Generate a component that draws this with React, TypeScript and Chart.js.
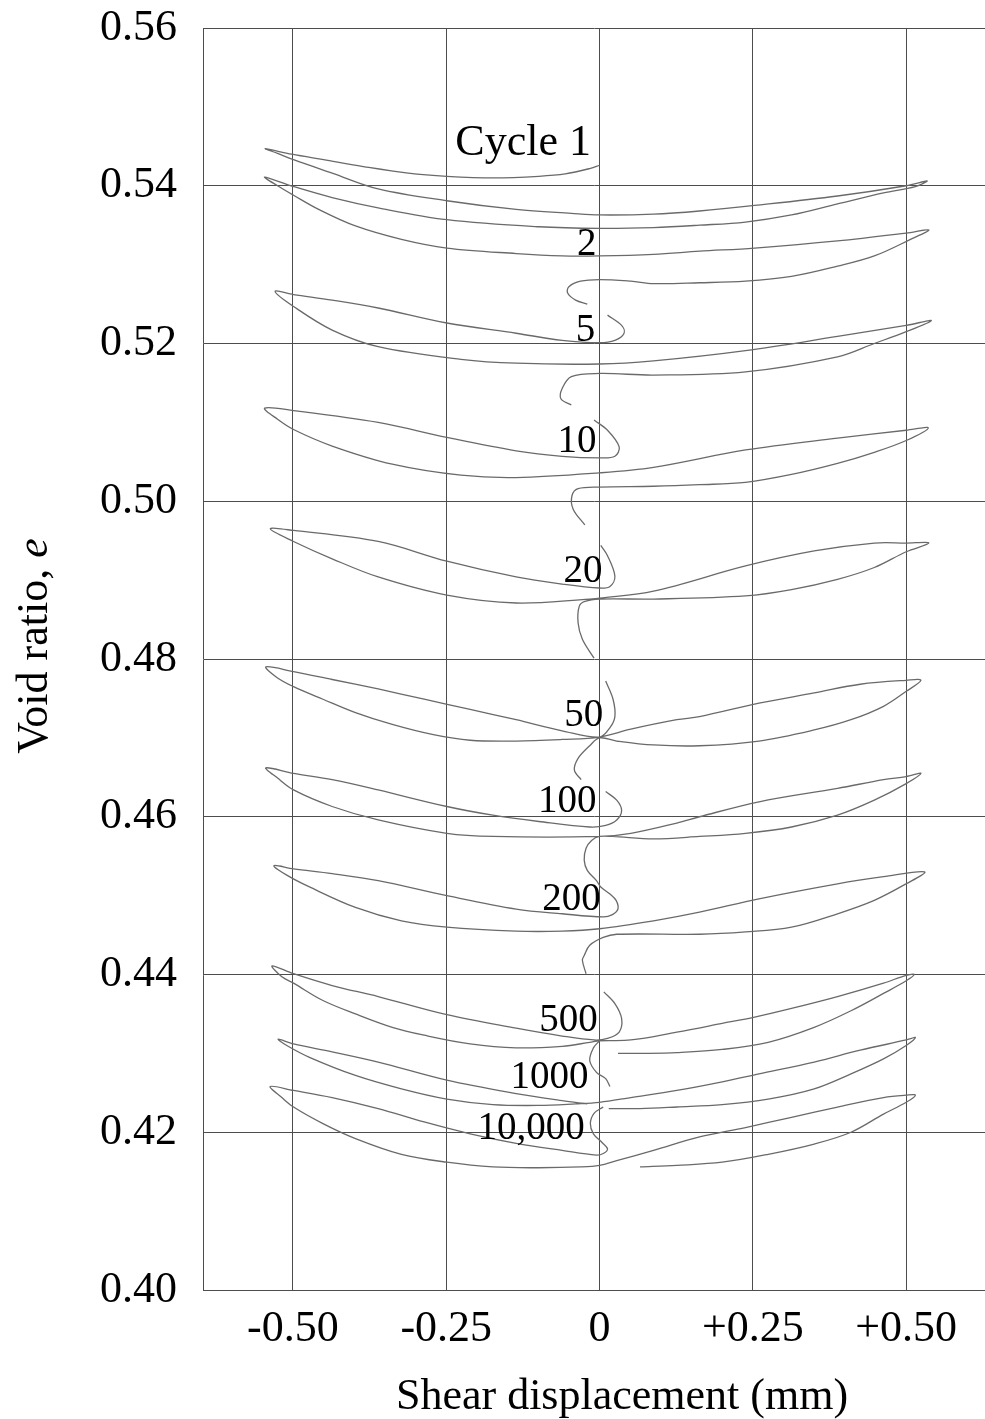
import React, { useEffect, useRef } from "react";
import { Chart, registerables } from "chart.js";

Chart.register(...registerables);

// ---- axis ticks ----
const xTickValues = [-0.5, -0.25, 0, 0.25, 0.5];
const xTickLabels = ["-0.50", "-0.25", "0", "+0.25", "+0.50"];
const yTickValues = [0.4, 0.42, 0.44, 0.46, 0.48, 0.5, 0.52, 0.54, 0.56];
const yTickLabels = ["0.40", "0.42", "0.44", "0.46", "0.48", "0.50", "0.52", "0.54", "0.56"];
const xTitle = "Shear displacement (mm)";
const yTitleMain = "Void ratio, ";
const yTitleItalic = "e";

// ---- traced curves: [shear displacement (mm), void ratio e] ----
const cycle1to2 = [
  [0.0, 0.5426], [-0.015, 0.5422], [-0.056, 0.5415], [-0.099, 0.5412], [-0.172, 0.541], [-0.249, 0.5412],
  [-0.312, 0.5416], [-0.383, 0.5424], [-0.45, 0.5433], [-0.502, 0.544], [-0.545, 0.5447],
  [-0.525, 0.5441], [-0.499, 0.5433], [-0.436, 0.5416], [-0.361, 0.5396], [-0.249, 0.5381], [-0.136, 0.537],
  [-0.046, 0.5365], [0.0, 0.5363], [0.088, 0.5364], [0.163, 0.5368], [0.253, 0.5375], [0.388, 0.5387],
  [0.5, 0.54], [0.534, 0.5406],
  [0.515, 0.5399], [0.463, 0.5391], [0.388, 0.5377], [0.313, 0.5363], [0.238, 0.5354], [0.163, 0.535],
  [0.088, 0.5347], [0.0, 0.5346], [-0.099, 0.5348], [-0.249, 0.5357], [-0.361, 0.5372], [-0.436, 0.5385],
  [-0.499, 0.5399], [-0.546, 0.5411],
  [-0.525, 0.54], [-0.499, 0.5388], [-0.458, 0.537], [-0.398, 0.5349], [-0.323, 0.5332], [-0.249, 0.5321],
  [-0.136, 0.5314], [-0.061, 0.5311], [0.0, 0.5311], [0.088, 0.5313], [0.163, 0.5317], [0.253, 0.5321],
  [0.388, 0.533], [0.5, 0.534], [0.537, 0.5344],
  [0.507, 0.5332], [0.448, 0.5311], [0.388, 0.5298], [0.313, 0.5285], [0.238, 0.5279], [0.163, 0.5277],
  [0.088, 0.5276], [0.051, 0.5279], [0.0, 0.5281], [-0.031, 0.5279], [-0.05, 0.5272], [-0.052, 0.5264],
  [-0.039, 0.5255], [-0.02, 0.525],
];

const cycle5 = [
  [0.013, 0.5236], [0.036, 0.5223], [0.04, 0.5213], [0.025, 0.5204], [0.0, 0.5201], [-0.061, 0.5204],
  [-0.136, 0.5213], [-0.249, 0.5226], [-0.361, 0.5245], [-0.436, 0.5255], [-0.499, 0.5262], [-0.529, 0.5266],
  [-0.499, 0.5247], [-0.436, 0.5217], [-0.361, 0.5196], [-0.226, 0.518], [-0.136, 0.5175], [0.0, 0.5174],
  [0.088, 0.5178], [0.238, 0.5191], [0.388, 0.5209], [0.5, 0.5223], [0.541, 0.5229],
  [0.5, 0.5215], [0.448, 0.52], [0.388, 0.5183], [0.238, 0.5164], [0.088, 0.516], [0.0, 0.5162],
  [-0.046, 0.5158], [-0.061, 0.5143], [-0.063, 0.513], [-0.046, 0.5122],
];

const cycle10 = [
  [-0.009, 0.5103], [0.013, 0.509], [0.032, 0.5069], [0.025, 0.5057], [0.0, 0.5055], [-0.061, 0.5057],
  [-0.136, 0.5064], [-0.249, 0.5081], [-0.361, 0.51], [-0.499, 0.5115], [-0.546, 0.5118],
  [-0.525, 0.5104], [-0.499, 0.5091], [-0.436, 0.507], [-0.338, 0.5047], [-0.226, 0.5033], [-0.136, 0.503],
  [0.0, 0.5036], [0.088, 0.5043], [0.238, 0.5065], [0.388, 0.508], [0.5, 0.509], [0.536, 0.5093],
  [0.5, 0.5077], [0.448, 0.5062], [0.388, 0.5048], [0.313, 0.5034], [0.238, 0.5024], [0.163, 0.5021],
  [0.088, 0.5019], [0.0, 0.5018], [-0.035, 0.5016], [-0.045, 0.5007], [-0.043, 0.499], [-0.024, 0.497],
];

const cycle20 = [
  [0.002, 0.4944], [0.013, 0.4931], [0.025, 0.4905], [0.017, 0.4892], [0.0, 0.489], [-0.061, 0.4895],
  [-0.136, 0.4904], [-0.249, 0.4924], [-0.361, 0.4949], [-0.499, 0.4963], [-0.537, 0.4965],
  [-0.499, 0.4949], [-0.436, 0.4927], [-0.361, 0.4904], [-0.249, 0.4881], [-0.136, 0.4871], [-0.016, 0.4876],
  [0.0, 0.4877], [0.088, 0.4886], [0.238, 0.4918], [0.35, 0.4937], [0.448, 0.4947], [0.5, 0.4947], [0.537, 0.4947],
  [0.5, 0.4936], [0.448, 0.4916], [0.388, 0.4901], [0.313, 0.4888], [0.238, 0.488], [0.088, 0.4876],
  [0.0, 0.4876], [-0.024, 0.4873], [-0.033, 0.4867], [-0.035, 0.4846], [-0.028, 0.4825], [-0.009, 0.4801],
];

const cycle50 = [
  [0.01, 0.4772], [0.022, 0.4749], [0.025, 0.4727], [0.017, 0.4713], [0.0, 0.4701], [-0.061, 0.4709],
  [-0.136, 0.4723], [-0.211, 0.4736], [-0.286, 0.4749], [-0.361, 0.4762], [-0.436, 0.4774], [-0.499, 0.4784],
  [-0.544, 0.479],
  [-0.525, 0.4776], [-0.499, 0.4765], [-0.451, 0.4749], [-0.398, 0.4732], [-0.338, 0.4717], [-0.271, 0.4704],
  [-0.211, 0.4697], [-0.136, 0.4696], [-0.061, 0.4698], [0.0, 0.4701], [0.051, 0.4711], [0.126, 0.4723],
  [0.163, 0.4727], [0.26, 0.4744], [0.35, 0.4757], [0.425, 0.4768], [0.5, 0.4773], [0.524, 0.4773],
  [0.5, 0.4759], [0.463, 0.474], [0.41, 0.4723], [0.35, 0.471], [0.26, 0.4696], [0.163, 0.469],
  [0.088, 0.4691], [0.028, 0.4696], [0.0, 0.47], [-0.016, 0.469], [-0.035, 0.4674], [-0.041, 0.4659],
  [-0.03, 0.4647],
];

const cycle100to200 = [
  [0.01, 0.4632], [0.028, 0.4621], [0.036, 0.4608], [0.028, 0.4596], [0.01, 0.4589], [-0.016, 0.4587],
  [-0.099, 0.4594], [-0.174, 0.4602], [-0.249, 0.4613], [-0.361, 0.4634], [-0.436, 0.4647], [-0.499, 0.4655],
  [-0.544, 0.4662],
  [-0.525, 0.4649], [-0.499, 0.4634], [-0.436, 0.4613], [-0.361, 0.4596], [-0.249, 0.4579], [-0.174, 0.4575],
  [0.0, 0.4575], [0.051, 0.4579], [0.126, 0.4592], [0.163, 0.46], [0.26, 0.4619], [0.388, 0.4636],
  [0.463, 0.4647], [0.5, 0.4651], [0.524, 0.4655],
  [0.5, 0.4642], [0.448, 0.4621], [0.388, 0.4602], [0.313, 0.4587], [0.238, 0.4579], [0.163, 0.4575],
  [0.088, 0.4572], [0.021, 0.4575], [0.0, 0.4575], [-0.013, 0.457], [-0.022, 0.456], [-0.025, 0.4545],
  [-0.02, 0.4532], [-0.005, 0.4519], [0.002, 0.4511], [0.017, 0.4502], [0.027, 0.4494], [0.03, 0.4483],
  [0.021, 0.4476], [0.006, 0.4473], [-0.061, 0.4477], [-0.136, 0.4483], [-0.249, 0.45], [-0.361, 0.4519],
  [-0.436, 0.4528], [-0.499, 0.4534], [-0.531, 0.4538],
  [-0.51, 0.4526], [-0.473, 0.4511], [-0.398, 0.4485], [-0.323, 0.4468], [-0.249, 0.446], [-0.136, 0.4455],
  [-0.061, 0.4455], [0.0, 0.4458], [0.088, 0.4468], [0.163, 0.4479], [0.26, 0.4496], [0.388, 0.4515],
  [0.463, 0.4524], [0.53, 0.453],
  [0.5, 0.4515], [0.448, 0.4494], [0.388, 0.4477], [0.313, 0.446], [0.238, 0.4454], [0.163, 0.4451],
  [0.028, 0.4451], [0.006, 0.4447], [-0.016, 0.4437], [-0.025, 0.4424], [-0.028, 0.4418], [-0.022, 0.4401],
];

const cycle500 = [
  [0.007, 0.4378], [0.025, 0.4363], [0.036, 0.4344], [0.032, 0.4327], [0.013, 0.4319], [-0.009, 0.4317],
  [-0.061, 0.4322], [-0.136, 0.4332], [-0.249, 0.4349], [-0.361, 0.4372], [-0.436, 0.4386], [-0.499, 0.4401],
  [-0.534, 0.4411],
  [-0.518, 0.4397], [-0.499, 0.4389], [-0.451, 0.4367], [-0.398, 0.435], [-0.338, 0.4333], [-0.286, 0.4323],
  [-0.211, 0.4312], [-0.136, 0.4307], [-0.061, 0.4309], [-0.016, 0.4314], [0.0, 0.4316], [0.051, 0.4317],
  [0.126, 0.4327], [0.2, 0.4338], [0.253, 0.4346], [0.313, 0.4357], [0.388, 0.4372], [0.463, 0.4389],
  [0.5, 0.4399], [0.513, 0.44],
  [0.5, 0.4392], [0.463, 0.4376], [0.41, 0.4354], [0.35, 0.4333], [0.275, 0.4314], [0.2, 0.4305],
  [0.126, 0.4301], [0.073, 0.43], [0.03, 0.43],
];

const link500to1000 = [
  [0.0, 0.4316], [-0.01, 0.4307], [-0.016, 0.4291], [-0.005, 0.4276], [0.01, 0.4268], [0.017, 0.4258],
];

const cycle1000 = [
  [-0.02, 0.4236], [-0.061, 0.424], [-0.136, 0.4249], [-0.249, 0.4266], [-0.361, 0.4289], [-0.436, 0.4302],
  [-0.499, 0.4312], [-0.524, 0.4318],
  [-0.51, 0.431], [-0.473, 0.4295], [-0.398, 0.4272], [-0.323, 0.4255], [-0.249, 0.4242], [-0.174, 0.4235],
  [-0.099, 0.4234], [-0.039, 0.4236], [0.0, 0.4238], [0.051, 0.4244], [0.126, 0.4253], [0.2, 0.4264],
  [0.26, 0.4274], [0.35, 0.4289], [0.425, 0.4304], [0.5, 0.4317], [0.515, 0.432],
  [0.5, 0.431], [0.463, 0.4293], [0.41, 0.4274], [0.35, 0.4255], [0.275, 0.4242], [0.2, 0.4235],
  [0.126, 0.4232], [0.066, 0.423], [0.015, 0.423],
];

const cycle10000 = [
  [0.006, 0.4232], [-0.009, 0.4224], [-0.015, 0.4211], [-0.01, 0.4198], [0.004, 0.4187], [0.013, 0.4179],
  [0.006, 0.4173], [-0.005, 0.4171], [-0.061, 0.4177], [-0.136, 0.4186], [-0.211, 0.4198], [-0.286, 0.4213],
  [-0.361, 0.423], [-0.436, 0.4244], [-0.499, 0.4253], [-0.537, 0.4258],
  [-0.518, 0.4244], [-0.499, 0.4232], [-0.451, 0.4211], [-0.398, 0.4192], [-0.323, 0.4172], [-0.249, 0.4162],
  [-0.174, 0.4156], [-0.099, 0.4155], [-0.031, 0.4156], [0.0, 0.4158], [0.028, 0.4164], [0.088, 0.4177],
  [0.163, 0.4194], [0.238, 0.4206], [0.313, 0.4219], [0.388, 0.4232], [0.463, 0.4244], [0.5, 0.4247],
  [0.515, 0.4247],
  [0.5, 0.4238], [0.463, 0.4223], [0.41, 0.42], [0.35, 0.4185], [0.275, 0.4172], [0.2, 0.4162],
  [0.126, 0.4158], [0.066, 0.4156],
];

// ---- cycle labels (right edge x, centre e) ----
const cycleLabels = ["Cycle 1", "2", "5", "10", "20", "50", "100", "200", "500", "1000", "10,000"];
const cycleLabelX = [-0.014, -0.005, -0.007, -0.005, 0.005, 0.006, -0.005, 0.002, -0.003, -0.018, -0.024];
const cycleLabelE = [0.5458, 0.5329, 0.522, 0.5079, 0.4914, 0.4732, 0.4622, 0.4498, 0.4345, 0.4273, 0.4208];

const segments = [
  cycle1to2, cycle5, cycle10, cycle20, cycle50, cycle100to200, cycle500, link500to1000, cycle1000, cycle10000,
];

const SERIF = '"Liberation Serif", "Times New Roman", serif';

const textPlugin = {
  id: "textPlugin",
  afterDraw(chart: any) {
    const { ctx, scales } = chart;
    const xs = scales.x;
    const ys = scales.y;
    ctx.save();
    ctx.fillStyle = "#000";
    ctx.textBaseline = "alphabetic";
    ctx.textAlign = "right";
    cycleLabels.forEach((t, i) => {
      const size = i === 0 ? 44 : 39;
      ctx.font = `${size}px ${SERIF}`;
      ctx.fillText(t, xs.getPixelForValue(cycleLabelX[i]), ys.getPixelForValue(cycleLabelE[i]) + size * 0.33);
    });
    ctx.textAlign = "center";
    ctx.font = `44px ${SERIF}`;
    ctx.fillText(xTitle, 622, 1409);
    ctx.translate(47, 646);
    ctx.rotate(-Math.PI / 2);
    ctx.font = `44px ${SERIF}`;
    const wa = ctx.measureText(yTitleMain).width;
    ctx.font = `italic 44px ${SERIF}`;
    const wb = ctx.measureText(yTitleItalic).width;
    const start = -(wa + wb) / 2;
    ctx.textAlign = "left";
    ctx.font = `44px ${SERIF}`;
    ctx.fillText(yTitleMain, start, 0);
    ctx.font = `italic 44px ${SERIF}`;
    ctx.fillText(yTitleItalic, start + wa, 0);
    ctx.restore();
  },
};

export default function App() {
  const ref = useRef<HTMLCanvasElement>(null);
  useEffect(() => {
    if (!ref.current) return;
    const chart = new Chart(ref.current, {
      type: "scatter",
      data: {
        datasets: segments.map((seg) => ({
          data: seg.map(([x, y]) => ({ x, y })),
          showLine: true,
          borderColor: "#6a6a6a",
          borderWidth: 1.3,
          pointRadius: 0,
          pointHoverRadius: 0,
          tension: 0.35,
          fill: false,
        })),
      },
      options: {
        animation: false,
        responsive: true,
        maintainAspectRatio: false,
        layout: { padding: { top: 28, right: 0, bottom: 0, left: 0 } },
        plugins: { legend: { display: false }, tooltip: { enabled: false } },
        scales: {
          x: {
            type: "linear",
            min: -0.6466,
            max: 0.6285,
            afterBuildTicks: (s: any) => {
              s.ticks = xTickValues.map((v) => ({ value: v }));
            },
            afterFit: (s: any) => {
              s.height = 129;
              s.paddingLeft = 0;
              s.paddingRight = 0;
              s.paddingTop = 0;
              s.paddingBottom = 0;
            },
            grid: { color: "#4d4d4d", lineWidth: 1, drawTicks: false },
            border: { display: true, color: "#4d4d4d", width: 1 },
            ticks: {
              autoSkip: false,
              maxRotation: 0,
              padding: 13,
              color: "#000",
              font: { family: SERIF, size: 44 },
              callback: (_v: any, i: number) => xTickLabels[i],
            },
          },
          y: {
            type: "linear",
            min: 0.4,
            max: 0.56,
            afterBuildTicks: (s: any) => {
              s.ticks = yTickValues.map((v) => ({ value: v }));
            },
            afterFit: (s: any) => {
              s.width = 203;
              s.paddingLeft = 0;
              s.paddingRight = 0;
              s.paddingTop = 0;
              s.paddingBottom = 0;
            },
            grid: { color: "#4d4d4d", lineWidth: 1, drawTicks: false },
            border: { display: true, color: "#4d4d4d", width: 1 },
            ticks: {
              autoSkip: false,
              padding: 26,
              color: "#000",
              font: { family: SERIF, size: 44 },
              callback: (_v: any, i: number) => yTickLabels[i],
            },
          },
        },
      },
      plugins: [textPlugin],
    });
    return () => chart.destroy();
  }, []);
  return (
    <div style={{ position: "absolute", left: 0, top: 0, width: 985, height: 1419, background: "#fff" }}>
      <canvas ref={ref} />
    </div>
  );
}
